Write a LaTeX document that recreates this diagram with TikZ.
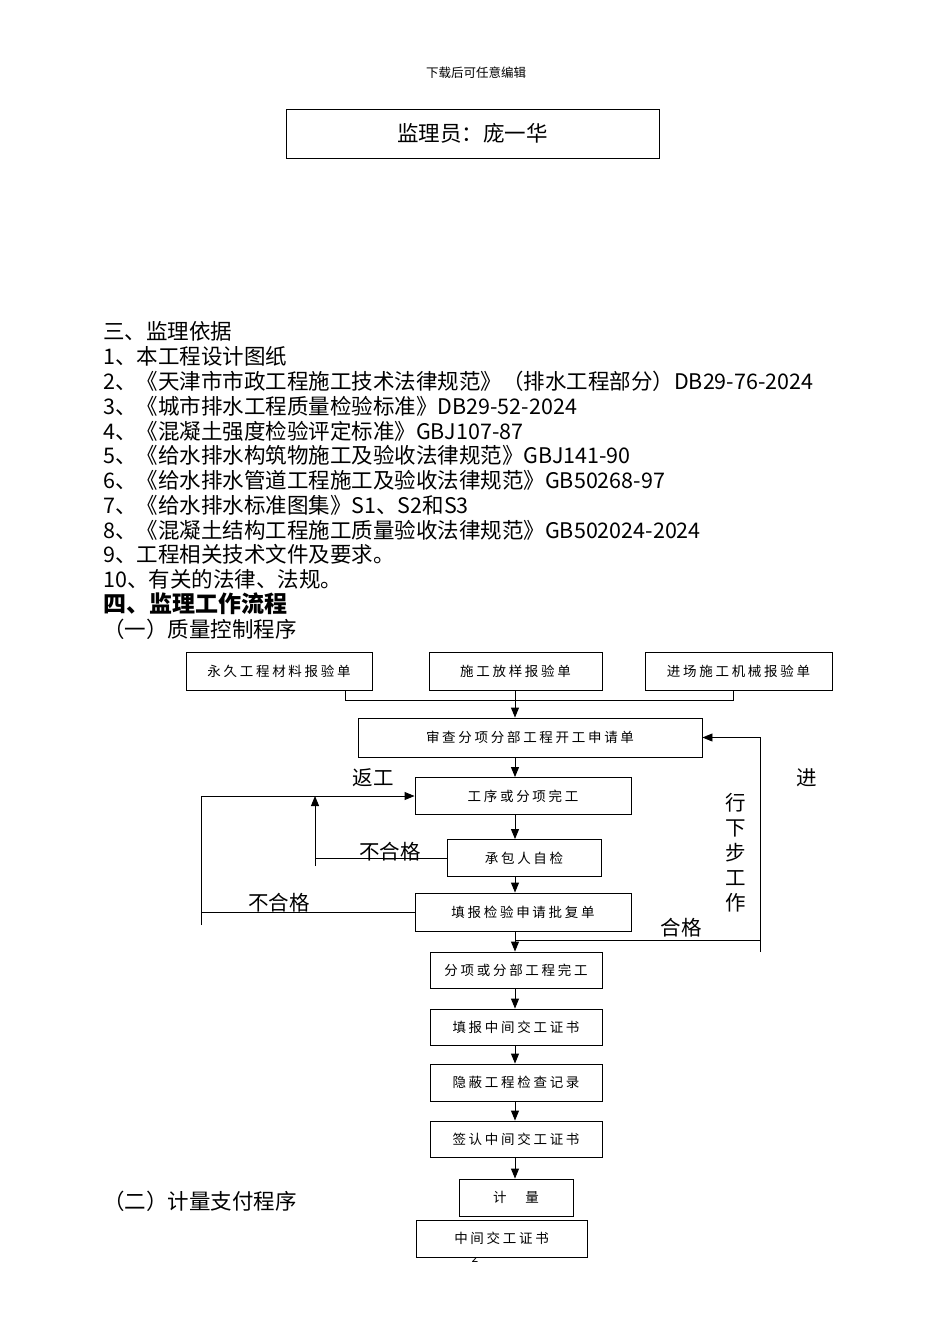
\documentclass[tikz,border=0pt]{standalone}
\usepackage{fontspec}
\setmainfont{Noto Sans CJK SC}
\newfontfamily\boxfont[LetterSpace=20]{Noto Sans CJK SC}
\usetikzlibrary{arrows.meta,positioning}

\begin{document}
\begin{tikzpicture}[x=1pt,y=-1pt,
  box/.style={draw,line width=0.9pt,inner sep=0pt,fill=white,
              font=\boxfont\fontsize{13.5}{15}\selectfont},
  ln/.style={line width=0.9pt},
  arr/.style={line width=0.9pt,-{Triangle[length=10pt,width=8pt]}},
  lbl/.style={font=\fontsize{20.5}{25}\selectfont,inner sep=0pt},
  txt/.style={anchor=west,inner sep=0pt,font=\fontsize{21.5}{25}\selectfont}
]
\useasboundingbox (0,0) rectangle (950,1344);

% page head
\node[inner sep=0pt,font=\fontsize{12.5}{14}\selectfont] (head) at (476,73) {下载后可任意编辑};
\node[draw,line width=0.9pt,minimum width=373pt,minimum height=49pt,
      font=\fontsize{21.5}{25}\selectfont] (jly) at (472.5,133.5) {监理员：庞一华};

% basis list
\node[txt] (l0)  at (103,331) {三、监理依据};
\node[txt] (l1)  at (103,356) {1、本工程设计图纸};
\node[txt] (l2)  at (103,381) {2、《天津市市政工程施工技术法律规范》（排水工程部分）DB29-76-2024};
\node[txt] (l3)  at (103,406) {3、《城市排水工程质量检验标准》DB29-52-2024};
\node[txt] (l4)  at (103,431) {4、《混凝土强度检验评定标准》GBJ107-87};
\node[txt] (l5)  at (103,455) {5、《给水排水构筑物施工及验收法律规范》GBJ141-90};
\node[txt] (l6)  at (103,480) {6、《给水排水管道工程施工及验收法律规范》GB50268-97};
\node[txt] (l7)  at (103,505) {7、《给水排水标准图集》S1、S2和S3};
\node[txt] (l8)  at (103,530) {8、《混凝土结构工程施工质量验收法律规范》GB502024-2024};
\node[txt] (l9)  at (103,554) {9、工程相关技术文件及要求。};
\node[txt] (l10) at (103,579) {10、有关的法律、法规。};
\node[txt,font=\fontsize{23}{25}\selectfont\bfseries] (s4) at (103,604) {四、监理工作流程};
\node[txt] (s41) at (103,629) {（一）质量控制程序};
\node[txt] (s42) at (103,1201) {（二）计量支付程序};

% top row
\node[box,minimum width=186pt,minimum height=38pt] (clbyd) at (279,671) {永久工程材料报验单};
\node[box,minimum width=173pt,minimum height=38pt] (fybyd) at (515.5,671) {施工放样报验单};
\node[box,minimum width=187pt,minimum height=38pt] (jxbyd) at (738.5,671) {进场施工机械报验单};

% main column
\node[box,minimum width=344pt,minimum height=39pt] (kgsq) at (530,737.5) {审查分项分部工程开工申请单};
\node[box,minimum width=216pt,minimum height=37pt] (wg)   at (523,796) {工序或分项完工};
\node[box,minimum width=154pt,minimum height=37pt] (zj)   at (524,858) {承包人自检};
\node[box,minimum width=216pt,minimum height=38pt] (pfd)  at (523,912) {填报检验申请批复单};
\node[box,minimum width=172pt,minimum height=36pt] (fbwg) at (516,970) {分项或分部工程完工};
\node[box,minimum width=172pt,minimum height=36pt] (tbzs) at (516,1027) {填报中间交工证书};
\node[box,minimum width=172pt,minimum height=37pt] (yb)   at (516,1082.5) {隐蔽工程检查记录};
\node[box,minimum width=172pt,minimum height=36pt] (qrzs) at (516,1139) {签认中间交工证书};
\node[box,minimum width=114pt,minimum height=37pt] (jl)   at (516,1197.5) {计　量};
\node[inner sep=0pt,font=\fontsize{12}{14}\selectfont] (pg) at (475,1258) {2};
\node[box,minimum width=171pt,minimum height=37pt] (zjzs) at (501.5,1238.5) {中间交工证书};

\coordinate (spine) at (515,0);
\coordinate (jA) at (345,700);
\coordinate (jC) at (733,700);
\coordinate (ob) at (201,925);
\coordinate (ib) at (315,866);
\coordinate (rt) at (760,952);
\coordinate (hg) at (515,940);

% Arrows
\draw[ln] (clbyd.south -| jA) -- (jA) -- (jC) -- (jxbyd.south -| jC);
\draw[arr] (fybyd.south -| spine) -- (kgsq.north -| spine);
\draw[arr] (kgsq.south -| spine) -- (wg.north -| spine);
\draw[arr] (wg.south -| spine) -- (zj.north -| spine);
\draw[arr] (zj.south -| spine) -- (pfd.north -| spine);
\draw[arr] (pfd.south -| spine) -- (fbwg.north -| spine);
\draw[arr] (fbwg.south -| spine) -- (tbzs.north -| spine);
\draw[arr] (tbzs.south -| spine) -- (yb.north -| spine);
\draw[arr] (yb.south -| spine) -- (qrzs.north -| spine);
\draw[arr] (qrzs.south -| spine) -- (jl.north -| spine);

% rework loops
\draw[ln] (pfd.west) -- (pfd.west -| ob);
\draw[arr] (ob) |- (wg.west);
\draw[ln] (zj.west) -- (zj.west -| ib);
\draw[arr] (ib) -- (ib |- wg.west);

% next step loop
\draw[ln] (rt |- hg) -- (hg);
\draw[arr] (rt) |- (kgsq.east);

\node[lbl] (fg)   at (373,778) {返工};
\node[lbl] (bhg1) at (390,852) {不合格};
\node[lbl] (bhg2) at (279,903) {不合格};
\node[lbl] (hgl)  at (681,928) {合格};
\node[lbl] (jin)  at (807,778) {进};
\node[lbl,align=center] (xbgz) at (736,853) {行\\下\\步\\工\\作};

\end{tikzpicture}
\end{document}
